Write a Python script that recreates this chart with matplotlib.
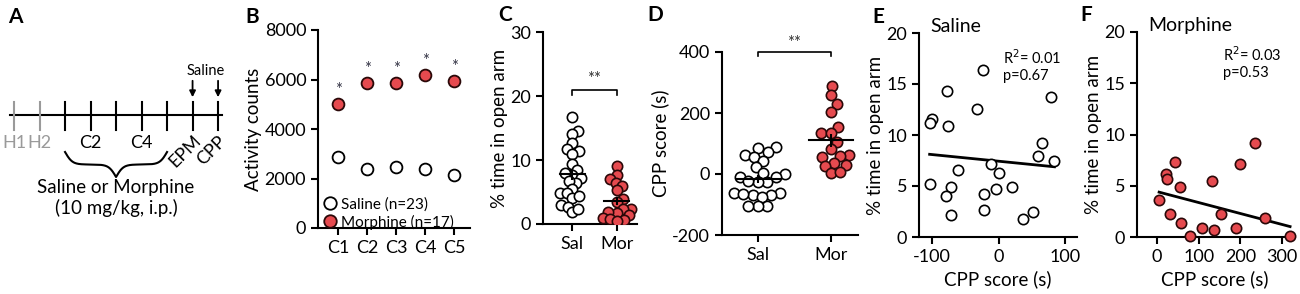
"""Multi-panel figure: activity, open arm time, CPP score and correlations."""

import numpy as np
import matplotlib
matplotlib.use("Agg")
import matplotlib.pyplot as plt
from matplotlib.lines import Line2D

plt.rcParams["font.family"] = ["Lato", "DejaVu Sans"]
plt.rcParams["axes.unicode_minus"] = False
plt.rcParams["axes.linewidth"] = 1.5
plt.rcParams["xtick.major.width"] = 1.5
plt.rcParams["ytick.major.width"] = 1.5
plt.rcParams["xtick.major.size"] = 5
plt.rcParams["ytick.major.size"] = 5
plt.rcParams["xtick.labelsize"] = 13
plt.rcParams["ytick.labelsize"] = 13

RED = "#e64a4f"
EDGE = "#2a0808"

# ---- data ----
timeline_days = ["H1", "H2", "C1", "C2", "C3", "C4", "C5", "EPM", "CPP"]
timeline_gray = ["H1", "H2"]
timeline_shown = ["H1", "H2", "C2", "C4"]
timeline_saline = ["EPM", "CPP"]

days = ["C1", "C2", "C3", "C4", "C5"]
activity_sal = [2850, 2380, 2450, 2380, 2140]
activity_sal_sem = [130, 110, 110, 110, 100]
activity_mor = [5000, 5850, 5850, 6200, 5930]
activity_mor_sem = [230, 240, 230, 230, 230]

open_arm_sal = [16.7, 14.5, 14.0, 12.6, 11.7, 11.4, 11.0, 9.3, 8.5, 7.7, 7.9,
                7.2, 6.4, 6.7, 5.5, 4.9, 4.8, 4.1, 4.3, 2.9, 2.7, 1.8, 2.3]
open_arm_mor = [9.1, 7.6, 7.0, 6.4, 6.0, 5.3, 3.9, 3.4, 2.4, 2.3, 1.7, 1.8,
                1.4, 0.9, 0.8, 0.6, 0.4]

cpp_sal = [87, 84, 62, 71, 55, 44, 24, 0, 2, -9, -11, -25, -25, -23, -61, -63,
           -69, -69, -66, -77, -104, -105, -104]
cpp_mor = [290, 259, 228, 204, 155, 133, 133, 106, 82, 62, 59, 57, 35, 27, 30,
           4, 5]

e_cpp = [-24, -78, -32, -100, -104, -77, -61, -11, 1, -104, -72, -79, -22, -4,
         20, -72, -22, 36, 51, 79, 66, 60, 84]
e_open = [16.4, 14.3, 12.5, 11.6, 11.2, 10.9, 6.6, 7.2, 6.3, 5.2, 4.9, 4.0,
          4.2, 4.7, 4.9, 2.2, 2.6, 1.8, 2.5, 13.7, 9.2, 7.9, 7.5]
e_fit = (-0.0065, 7.43)  # slope, intercept of the drawn regression line
e_stats = "R$^2$= 0.01\np=0.67"

f_cpp = [235, 42, 199, 21, 25, 133, 54, 5, 31, 154, 259, 57, 107, 137, 190,
         78, 319]
f_open = [9.2, 7.3, 7.1, 6.1, 5.7, 5.5, 4.9, 3.6, 2.2, 2.2, 1.9, 1.4, 0.9,
          0.7, 0.85, 0.13, 0.13]
f_fit = (-0.0107, 4.43)
f_stats = "R$^2$= 0.03\np=0.53"


W, H = 1300, 294
fig = plt.figure(figsize=(W / 100, H / 100), dpi=100)


def add_axes(left, right, top, bottom):
    """Axes from pixel edges (y measured from the top)."""
    ax = fig.add_axes([left / W, (H - bottom) / H, (right - left) / W, (bottom - top) / H])
    ax.spines["top"].set_visible(False)
    ax.spines["right"].set_visible(False)
    return ax


def swarm_x(ax, xc, vals, d_px):
    """Simple beeswarm: place points side by side without (much) overlap."""
    trans = ax.transData
    pts = trans.transform(np.column_stack([np.full(len(vals), xc), vals]))
    x0 = pts[0, 0]
    ys = pts[:, 1]
    xs = np.zeros(len(vals))
    placed = []
    for i in np.argsort(ys):
        y = ys[i]
        cands = [x0]
        for px, py in placed:
            dy = abs(py - y)
            if dy < d_px:
                dx = np.sqrt(d_px ** 2 - dy ** 2)
                cands += [px + dx, px - dx]
        cands.sort(key=lambda c: abs(c - x0))
        for c in cands:
            if all((c - px) ** 2 + (y - py) ** 2 >= d_px ** 2 - 1e-6 for px, py in placed):
                break
        placed.append((c, y))
        xs[i] = c
    return trans.inverted().transform(np.column_stack([xs, ys]))[:, 0]


def dot_panel(ax, groups, colors, half_width, gap):
    for i, (vals, col) in enumerate(zip(groups, colors)):
        vals = np.asarray(vals, float)
        xs = swarm_x(ax, i, vals, gap)
        ax.scatter(xs, vals, s=55, facecolor=col, edgecolor="black" if col == "white" else EDGE,
                   linewidth=1.2, zorder=3)
        m = vals.mean()
        sem = vals.std(ddof=1) / np.sqrt(len(vals))
        ax.plot([i - half_width, i + half_width], [m, m], color="black", lw=1.5, zorder=4)
        ax.errorbar(i, m, yerr=sem, color="black", lw=1.5, capsize=0, zorder=4)


def sig_bar(ax, y, drop_l, drop_r, text, ty):
    ax.plot([0, 0, 1, 1], [y - drop_l, y, y, y - drop_r], color="black", lw=1.2, clip_on=False)
    ax.text(0.5, ty, text, ha="center", va="center", fontsize=12, color="#333333")


# ---- A: timeline ----
axA = fig.add_axes([0, 0, 240 / W, 1])
axA.set_xlim(-0.55, 8.86)
axA.set_ylim(H, 0)
axA.axis("off")
axA.plot([-0.15, 8.15], [115, 115], color="black", lw=1.5)
for i, d in enumerate(timeline_days):
    col = "#9a9a9a" if d in timeline_gray else "black"
    axA.plot([i, i], [102, 130], color=col, lw=1.5)
    if d in timeline_shown:
        axA.text(i, 143, d, ha="center", va="center", fontsize=13, color=col)
for d in timeline_saline:
    i = timeline_days.index(d)
    axA.annotate("", xy=(i, 100), xytext=(i, 78),
                 arrowprops=dict(arrowstyle="-|>", color="black", lw=1.3, mutation_scale=9))
    axA.text(i - 0.27, 151, d, ha="center", va="center", rotation=45, fontsize=13,
             rotation_mode="anchor")
axA.text(7.5, 71, "Saline", ha="center", va="center", fontsize=10.5)

# curly brace under C1..C5
x1, x2 = timeline_days.index("C1"), timeline_days.index("C5")
bx = np.linspace(x1, x2, 301)
half = bx[:151]
beta = 7.0
yh = 1 / (1 + np.exp(-beta * (half - half[0]))) + 1 / (1 + np.exp(-beta * (half - half[-1])))
by = np.concatenate([yh, yh[-2::-1]])
axA.plot(bx, 152 + (by - 0.5) * 25, color="black", lw=1.5)
axA.text(4, 187, "Saline or Morphine", ha="center", va="center", fontsize=13.5)
axA.text(4, 208, "(10 mg/kg, i.p.)", ha="center", va="center", fontsize=13.5)

# ---- B: activity ----
axB = add_axes(318, 470, 30, 228)
x = np.arange(1, len(days) + 1)
axB.errorbar(x, activity_sal, yerr=activity_sal_sem, fmt="o", ms=8.5, mfc="white", mec="black",
             mew=1.3, ecolor="black", elinewidth=1.3, capsize=0, zorder=3)
axB.errorbar(x, activity_mor, yerr=activity_mor_sem, fmt="o", ms=8.5, mfc=RED, mec=EDGE,
             mew=1.3, ecolor="black", elinewidth=1.3, capsize=0, zorder=3)
for xi, v in zip(x, activity_mor):
    axB.text(xi, v + 560, "*", ha="center", va="center", fontsize=12, color="#333344")
axB.set_xlim(0.3, 5.55)
axB.set_ylim(0, 8000)
axB.set_yticks([0, 2000, 4000, 6000, 8000])
axB.set_xticks(x)
axB.set_xticklabels(days)
axB.set_ylabel("Activity counts", fontsize=13.5, labelpad=2)
handles = [
    Line2D([], [], ls="none", marker="o", ms=9, mfc="white", mec="black", mew=1.3),
    Line2D([], [], ls="none", marker="o", ms=9, mfc=RED, mec=EDGE, mew=1.3),
]
axB.legend(handles, ["Saline (n=23)", "Morphine (n=17)"], loc="lower left",
           bbox_to_anchor=(-0.02, -0.04), frameon=False, fontsize=11,
           handletextpad=0.1, borderaxespad=0, labelspacing=0.2, handlelength=1.2)

# ---- C: % time in open arm ----
axC = add_axes(543, 637, 32, 224)
axC.set_xlim(-0.65, 1.45)
axC.set_ylim(0, 30)
dot_panel(axC, [open_arm_sal, open_arm_mor], ["white", RED], 0.28, 7.0)
axC.set_yticks([0, 10, 20, 30])
axC.set_xticks([0, 1])
axC.set_xticklabels(["Sal", "Mor"])
axC.set_ylabel("% time in open arm", fontsize=13.5, labelpad=2)
sig_bar(axC, 21, 0.9, 0.9, "**", 22.6)

# ---- D: CPP score ----
axD = add_axes(722, 858, 52, 235)
axD.set_xlim(-0.49, 1.37)
axD.set_ylim(-200, 400)
dot_panel(axD, [cpp_sal, cpp_mor], ["white", RED], 0.3, 9.5)
axD.set_yticks([-200, 0, 200, 400])
axD.set_xticks([0, 1])
axD.set_xticklabels(["Sal", "Mor"])
axD.set_ylabel("CPP score (s)", fontsize=13.5, labelpad=2)
sig_bar(axD, 400, 12, 12, "**", 428)


# ---- E / F: correlations ----
def corr_panel(ax, xs, ys, fit, face, title, stats, sx, sy):
    xs = np.asarray(xs, float)
    ys = np.asarray(ys, float)
    ax.scatter(xs, ys, s=55, facecolor=face, edgecolor="black" if face == "white" else EDGE,
               linewidth=1.2, zorder=3, clip_on=False)
    k, b = fit
    lx = np.array([xs.min(), xs.max()])
    ax.plot(lx, k * lx + b, color="black", lw=2, zorder=2)
    ax.set_ylim(0, 20)
    ax.set_yticks([0, 5, 10, 15, 20])
    ax.set_ylabel("% time in open arm", fontsize=13.5, labelpad=2)
    ax.set_xlabel("CPP score (s)", fontsize=13.5)
    ax.text(0.07, 1.03, title, transform=ax.transAxes, fontsize=14, va="center")
    ax.text(sx, sy, stats, transform=ax.transAxes, fontsize=10.5, va="center", linespacing=1.2)


axE = add_axes(919, 1077, 33, 237)
axE.set_xlim(-120, 118)
corr_panel(axE, e_cpp, e_open, e_fit, "white", "Saline", e_stats, 0.53, 0.84)
axE.set_xticks([-100, 0, 100])

axF = add_axes(1137, 1293, 32, 237)
axF.set_xlim(-48, 326)
corr_panel(axF, f_cpp, f_open, f_fit, RED, "Morphine", f_stats, 0.55, 0.85)
axF.set_xticks([0, 100, 200, 300])

# panel letters
for letter, px, py in [("A", 15, 17), ("B", 252, 17), ("C", 505, 15), ("D", 655, 15),
                       ("E", 878, 17), ("F", 1086, 15)]:
    fig.text(px / W, 1 - py / H, letter, fontsize=15, fontweight="bold", ha="center", va="center")

fig.savefig("out.png", dpi=100)
